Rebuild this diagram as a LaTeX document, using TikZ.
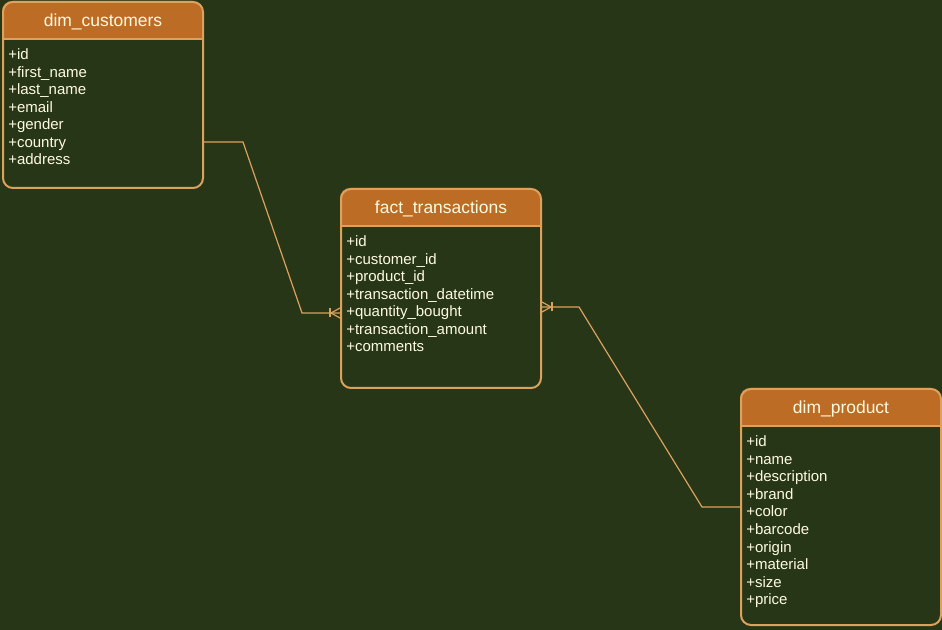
\documentclass[tikz,border=0pt]{standalone}
\usepackage{fontspec}
\setmainfont{Liberation Sans}
\usetikzlibrary{calc}
\definecolor{canvas}{HTML}{283618}
\definecolor{header}{HTML}{BC6C25}
\definecolor{edge}{HTML}{DDA15E}
\definecolor{ink}{HTML}{FEFAE0}
\tikzset{
  tablebox/.style={draw=edge, line width=1.5pt, rounded corners=7.5pt,
    minimum width=150pt, inner sep=0pt, anchor=north west},
  tabletitle/.style={text=ink, font=\fontsize{13.1}{15}\selectfont, anchor=base, inner sep=0pt},
  field/.style={text=ink, font=\fontsize{11.25}{13}\selectfont, anchor=base west, inner sep=0pt},
  conn/.style={draw=edge, line width=0.9pt},
}
% #1 name, #2 left, #3 top, #4 height (px), #5 title, #6 fields
\newcommand{\erdtable}[6]{%
  \fill[header, rounded corners=7.5pt] (#2,#3) rectangle ++(200,38);
  \fill[header] (#2,#3+19) rectangle ++(200,19);
  \node[tablebox, minimum height={#4*0.75pt}] (#1) at (#2,#3) {};
  \draw[edge, line width=1.2pt] ($(#1.north west)+(0,38)$) -- ($(#1.north east)+(0,38)$);
  \node[tabletitle] (#1-title) at ($(#1.north)+(0,26)$) {#5};
  \foreach \f [count=\i] in {#6}
    \node[field] (#1-f\i) at ($(#1.north west)+(6,59+17.5*\i-17.5)$) {+\f};
}
% crow's foot "one or many" end; #2 = 1 if the table lies right of the point, -1 if left
\newcommand{\crowfoot}[2]{%
  \draw[conn] ($(#1)+(-10*#2,-4.5)$) -- ($(#1)+(-10*#2,4.5)$);
  \draw[conn] ($(#1)+(0,-5)$) -- ($(#1)+(-9*#2,0)$) -- ($(#1)+(0,5)$);
}
\begin{document}
\begin{tikzpicture}[x=0.75pt, y=-0.75pt]
  \useasboundingbox (0,0) rectangle (942,630);
  \fill[canvas] (0,0) rectangle (942,630);

  \erdtable{cust}{2}{1}{186}{dim\_customers}%
    {id,first\_name,last\_name,email,gender,country,address}
  \erdtable{fact}{340}{188}{199}{fact\_transactions}%
    {id,customer\_id,product\_id,transaction\_datetime,quantity\_bought,transaction\_amount,comments}
  \erdtable{prod}{740}{388}{236}{dim\_product}%
    {id,name,description,brand,color,barcode,origin,material,size,price}

  % relationship end points
  \path (cust.north east) ++(0,141) coordinate (custR);
  \path (fact.north west) ++(0,125) coordinate (factL);
  \path (fact.north east) ++(0,119) coordinate (factR);
  \path (prod.north west) ++(0,119) coordinate (prodL);

  \draw[conn] (custR) -- ++(39,0) -- ($(factL)+(-38,0)$) -- (factL);
  \draw[conn] (factR) -- ++(37,0) -- ($(prodL)+(-38,0)$) -- (prodL);
  \crowfoot{factL}{1}
  \crowfoot{factR}{-1}
\end{tikzpicture}
\end{document}
